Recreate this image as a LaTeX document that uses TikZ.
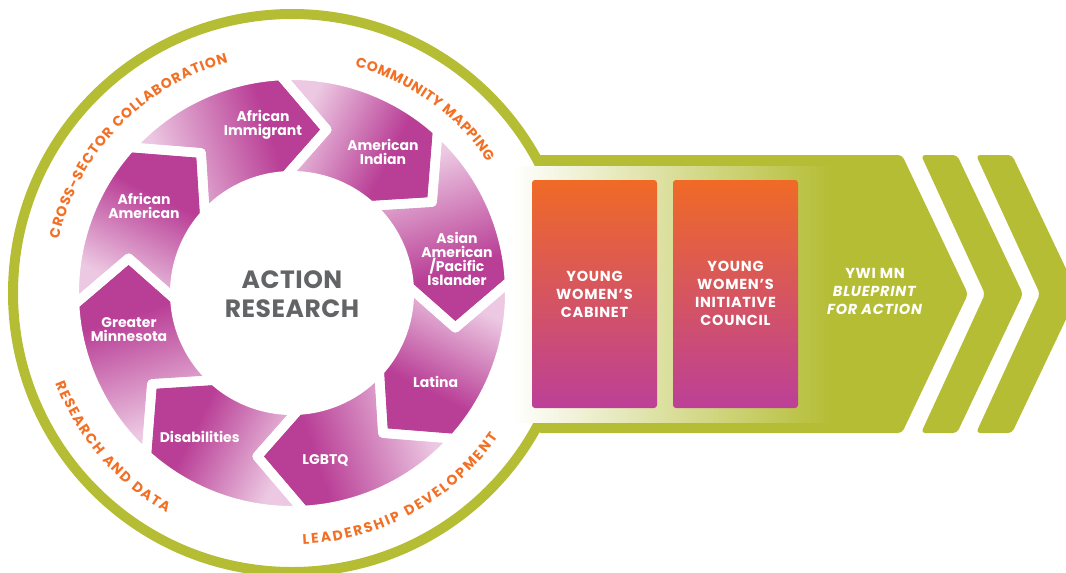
\documentclass[tikz,border=0pt]{standalone}
\usepackage{fontspec}
\setmainfont{Poppins}
\usetikzlibrary{decorations.text}
\definecolor{ringgreen}{RGB}{181,189,53}
\definecolor{labelorange}{RGB}{241,112,38}
\definecolor{magC}{RGB}{185,62,150}
\definecolor{pinkL}{RGB}{236,200,226}
\definecolor{grayT}{RGB}{99,100,102}
\definecolor{boxtop}{RGB}{240,106,38}
\definecolor{boxbot}{RGB}{188,64,152}
\pgfdeclarehorizontalshading{arrsh}{100bp}{color(0bp)=(pinkL); color(30bp)=(pinkL); color(62bp)=(magC); color(100bp)=(magC)}
\newcommand\lblfont{\fontsize{14}{14}\selectfont\bfseries\color{labelorange}}
\tikzset{
  seglabel/.style={text=white, font=\fontsize{14}{14}\selectfont\bfseries, align=center, inner sep=0pt},
  boxlabel/.style={text=white, font=\fontsize{14.5}{18}\selectfont\bfseries\addfontfeatures{LetterSpace=5}, align=center, inner sep=0pt},
  greenshape/.style={fill=ringgreen, rounded corners=4pt},
  orangebox/.style={top color=boxtop, bottom color=boxbot, rounded corners=3pt},
  gapline/.style={draw=white, line width=9.5pt, line join=round},
}
\begin{document}
\begin{tikzpicture}[x=1pt, y=-1pt]
\path[use as bounding box] (0,0) rectangle (1066,573);
% green arrow band and chevrons
\fill[greenshape] (537,155) -- (902,155) -- (968,294) -- (902,433) -- (537,433) -- cycle;
\fill[greenshape] (921,155) -- (957,155) -- (1023,294) -- (957,433) -- (921,433) -- (985,294) -- cycle;
\fill[greenshape] (976,155) -- (1012,155) -- (1078,294) -- (1012,433) -- (976,433) -- (1040,294) -- cycle;
% ring
\draw[ringgreen, line width=10pt] (292,293) circle[radius=279pt];
% band interior
\shade[left color=white, right color=ringgreen] (512,166) rectangle (832,422);
% boxes
\shade[orangebox] (532,180) rectangle (657,408);
\shade[orangebox] (673,180) rectangle (798,408);
\node[boxlabel] (cab) at (594.5,294) {YOUNG\\WOMEN’S\\CABINET};
\node[boxlabel] (cou) at (735.5,293) {YOUNG\\WOMEN’S\\INITIATIVE\\COUNCIL};
\node[boxlabel] (ywi) at (875,291) {YWI MN\\\textit{BLUEPRINT}\\\textit{FOR ACTION}};
% circular arrows
\begin{scope}[shift={(292,293)}]
  \foreach \h in {78,33,-12,-57,-102,-147,-192,-237} {
    \pgfmathsetmacro\sa{\h-60}
    \shade[shading=arrsh, shading angle=\sa] ({\h+15}:217.75pt) arc[start angle=\h+15, end angle=\h+60, radius=217.75pt] -- ({\h+45}:167pt) -- ({\h+60}:117.25pt) arc[start angle=\h+60, end angle=\h+15, radius=117.25pt] -- (\h:167pt) -- cycle;
  }
  \foreach \h in {78,33,-12,-57,-102,-147,-192,-237} {
    \path[gapline] ({\h+15}:217.75pt) arc[start angle=\h+15, end angle=\h+60, radius=217.75pt] -- ({\h+45}:167pt) -- ({\h+60}:117.25pt) arc[start angle=\h+60, end angle=\h+15, radius=117.25pt] -- (\h:167pt) -- cycle;
  }
  \path[decorate, decoration={text along path, text align=fit to path, text={|\lblfont|CROSS-SECTOR COLLABORATION}}] (167:239.5pt) arc[start angle=167, end angle=105.5, radius=239.5pt];
  \path[decorate, decoration={text along path, text align=fit to path, text={|\lblfont|COMMUNITY MAPPING}}] (74.5:235.5pt) arc[start angle=74.5, end angle=33.8, radius=235.5pt];
  \path[decorate, decoration={text along path, text align=fit to path, text={|\lblfont|RESEARCH AND DATA}}] (201:253pt) arc[start angle=201, end angle=240.3, radius=253pt];
  \path[decorate, decoration={text along path, text align=fit to path, text={|\lblfont|LEADERSHIP DEVELOPMENT}}] (272.5:251.5pt) arc[start angle=272.5, end angle=325, radius=251.5pt];
\end{scope}
% segment labels
\node[seglabel] (afim) at (263,125) {African\\Immigrant};
\node[seglabel] (afam) at (144,206) {African\\American};
\node[seglabel] (amin) at (383,152) {American\\Indian};
\node[seglabel] (asia) at (457,258.6) {Asian\\American\\/Pacific\\Islander};
\node[seglabel] (lati) at (435.6,382) {Latina};
\node[seglabel] (lgbt) at (325.4,460.5) {LGBTQ};
\node[seglabel] (disa) at (199.7,436.8) {Disabilities};
\node[seglabel] (grmn) at (129,330) {Greater\\Minnesota};
\node[text=grayT, font=\fontsize{25}{29}\selectfont\bfseries\addfontfeatures{LetterSpace=2}, align=center, inner sep=0pt] (ar) at (292,294) {ACTION\\RESEARCH};
\end{tikzpicture}
\end{document}
